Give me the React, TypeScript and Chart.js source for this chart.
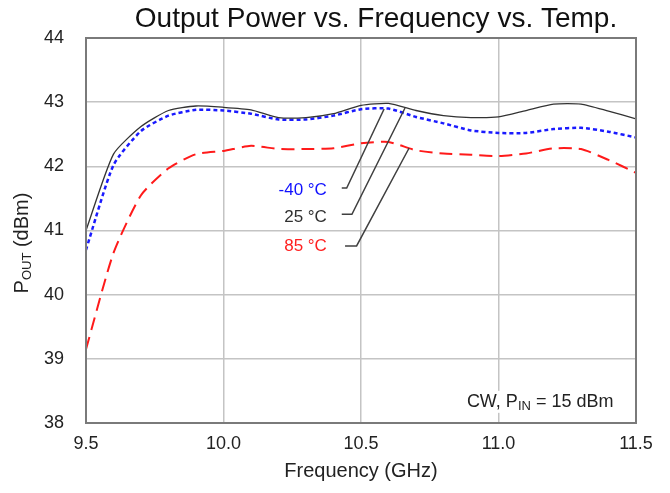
import React, { useEffect, useRef } from "react";
import { Chart, registerables } from "chart.js";

Chart.register(...registerables);

// ---- data ----
const freqGHz = [9.5, 9.6, 9.7, 9.8, 9.9, 10.0, 10.1, 10.2, 10.3, 10.4, 10.5, 10.6, 10.7, 10.8, 10.9, 11.0, 11.1, 11.2, 11.3, 11.4, 11.5];
const poutM40 = [40.7, 42.02, 42.55, 42.79, 42.88, 42.87, 42.82, 42.73, 42.73, 42.79, 42.89, 42.9, 42.77, 42.67, 42.56, 42.52, 42.52, 42.58, 42.6, 42.54, 42.45];
const pout25 = [41.0, 42.19, 42.62, 42.87, 42.94, 42.92, 42.88, 42.76, 42.76, 42.82, 42.95, 42.98, 42.87, 42.79, 42.76, 42.77, 42.87, 42.97, 42.97, 42.86, 42.74];
const pout85 = [39.15, 40.65, 41.55, 41.97, 42.19, 42.24, 42.32, 42.27, 42.27, 42.28, 42.36, 42.38, 42.25, 42.2, 42.18, 42.16, 42.2, 42.28, 42.27, 42.1, 41.9];

const xTicks = [9.5, 10.0, 10.5, 11.0, 11.5];
const yTicks = [38, 39, 40, 41, 42, 43, 44];

const seriesLabels = ["-40 °C", "25 °C", "85 °C"];
// callout anchors (data units)
const calloutTextX = 10.376;
const calloutTextY = [41.63, 41.2, 40.76];
const calloutStubStartX = [10.43, 10.43, 10.442];
const calloutStubEndX = [10.448, 10.467, 10.484];
const calloutStubY = [41.662, 41.253, 40.759];
const calloutEndX = [10.584, 10.66, 10.675];
const calloutEndY = [42.894, 42.909, 42.286];

const noteX = 10.885;
const noteY = 38.33;

const FONT = "'Liberation Sans', Arial, sans-serif";
const seriesColors = ["#1010ff", "#303030", "#ff2020"];

const overlay = {
  id: "overlay",
  afterDatasetsDraw(chart: any) {
    const { ctx, chartArea, scales } = chart;
    const xs = scales.x;
    const ys = scales.y;
    ctx.save();
    // plot frame
    ctx.strokeStyle = "#7a7a7a";
    ctx.lineWidth = 2;
    ctx.strokeRect(chartArea.left, chartArea.top, chartArea.right - chartArea.left, chartArea.bottom - chartArea.top);

    // callouts
    ctx.font = `17px ${FONT}`;
    ctx.textBaseline = "middle";
    ctx.textAlign = "right";
    for (let i = 0; i < seriesLabels.length; i++) {
      const tx = xs.getPixelForValue(calloutTextX);
      const ty = ys.getPixelForValue(calloutTextY[i]);
      const w = ctx.measureText(seriesLabels[i]).width;
      ctx.fillStyle = "#ffffff";
      ctx.fillRect(tx - w - 3, ty - 10, w + 6, 20);
      ctx.fillStyle = seriesColors[i];
      ctx.fillText(seriesLabels[i], tx, ty);
      ctx.strokeStyle = "#404040";
      ctx.lineWidth = 1.5;
      ctx.beginPath();
      ctx.moveTo(xs.getPixelForValue(calloutStubStartX[i]), ys.getPixelForValue(calloutStubY[i]));
      ctx.lineTo(xs.getPixelForValue(calloutStubEndX[i]), ys.getPixelForValue(calloutStubY[i]));
      ctx.lineTo(xs.getPixelForValue(calloutEndX[i]), ys.getPixelForValue(calloutEndY[i]));
      ctx.stroke();
    }

    // note "CW, P_IN = 15 dBm"
    const nx = xs.getPixelForValue(noteX);
    const ny = ys.getPixelForValue(noteY);
    const big = `18px ${FONT}`;
    const small = `13px ${FONT}`;
    const parts = [
      { t: "CW, P", f: big, dy: 0 },
      { t: "IN", f: small, dy: 5 },
      { t: " = 15 dBm", f: big, dy: 0 },
    ];
    let total = 0;
    for (const p of parts) {
      ctx.font = p.f;
      total += ctx.measureText(p.t).width;
    }
    ctx.fillStyle = "#ffffff";
    ctx.fillRect(nx - 3, ny - 11, total + 6, 22);
    ctx.textAlign = "left";
    ctx.fillStyle = "#222222";
    let cx = nx;
    for (const p of parts) {
      ctx.font = p.f;
      ctx.fillText(p.t, cx, ny + p.dy);
      cx += ctx.measureText(p.t).width;
    }

    // chart title
    ctx.font = `28px ${FONT}`;
    ctx.textAlign = "center";
    ctx.textBaseline = "middle";
    ctx.fillStyle = "#111111";
    ctx.fillText("Output Power vs. Frequency vs. Temp.", 376, 19);

    // y axis title with subscript
    ctx.translate(22, 243);
    ctx.rotate(-Math.PI / 2);
    const yParts = [
      { t: "P", f: `20px ${FONT}`, dy: 0 },
      { t: "OUT", f: `13px ${FONT}`, dy: 5 },
      { t: " (dBm)", f: `20px ${FONT}`, dy: 0 },
    ];
    let yw = 0;
    for (const p of yParts) {
      ctx.font = p.f;
      yw += ctx.measureText(p.t).width;
    }
    ctx.textAlign = "left";
    ctx.fillStyle = "#222222";
    let yx = -yw / 2;
    for (const p of yParts) {
      ctx.font = p.f;
      ctx.fillText(p.t, yx, p.dy);
      yx += ctx.measureText(p.t).width;
    }
    ctx.restore();
  },
};

export default function App() {
  const ref = useRef<HTMLCanvasElement | null>(null);
  useEffect(() => {
    if (!ref.current) return;
    const mk = (arr: number[]) => arr.map((v, i) => ({ x: freqGHz[i], y: v }));
    const chart = new Chart(ref.current, {
      type: "line",
      data: {
        datasets: [
          {
            label: seriesLabels[1],
            data: mk(pout25),
            borderColor: "#333333",
            borderWidth: 1.3,
            pointRadius: 0,
            tension: 0.2,
          },
          {
            label: seriesLabels[0],
            data: mk(poutM40),
            borderColor: "#1a1aff",
            borderWidth: 2.5,
            borderDash: [4, 3],
            pointRadius: 0,
            tension: 0.2,
          },
          {
            label: seriesLabels[2],
            data: mk(pout85),
            borderColor: "#ff1a1a",
            borderWidth: 2,
            borderDash: [13, 7],
            pointRadius: 0,
            tension: 0.2,
          },
        ],
      },
      options: {
        animation: false,
        responsive: false,
        devicePixelRatio: 1,
        layout: { padding: { left: 0, right: 34, top: 38, bottom: 0 } },
        plugins: { legend: { display: false }, tooltip: { enabled: false }, title: { display: false } },
        scales: {
          x: {
            type: "linear",
            min: 9.5,
            max: 11.5,
            afterBuildTicks: (s: any) => {
              s.ticks = xTicks.map((v) => ({ value: v }));
            },
            afterFit: (s: any) => {
              s.height = 70;
            },
            ticks: {
              callback: (v: any) => Number(v).toFixed(1),
              font: { family: FONT, size: 18 },
              color: "#222222",
              padding: 10,
              maxRotation: 0,
            },
            grid: { color: "#c4c4c4", lineWidth: 1.5, drawTicks: false },
            border: { color: "#7a7a7a", width: 2 },
            title: {
              display: true,
              text: "Frequency (GHz)",
              font: { family: FONT, size: 20 },
              color: "#222222",
              padding: { top: 4, bottom: 10 },
            },
          },
          y: {
            min: 38,
            max: 44,
            afterBuildTicks: (s: any) => {
              s.ticks = yTicks.map((v) => ({ value: v }));
            },
            afterFit: (s: any) => {
              s.width = 86;
            },
            ticks: {
              font: { family: FONT, size: 18 },
              color: "#222222",
              padding: 22,
            },
            grid: { color: "#c4c4c4", lineWidth: 1.5, drawTicks: false },
            border: { color: "#7a7a7a", width: 2 },
          },
        },
      },
      plugins: [overlay],
    });
    return () => chart.destroy();
  }, []);
  return (
    <div style={{ position: "fixed", left: 0, top: 0, width: 670, height: 493, background: "#fff" }}>
      <canvas ref={ref} width={670} height={493} />
    </div>
  );
}
